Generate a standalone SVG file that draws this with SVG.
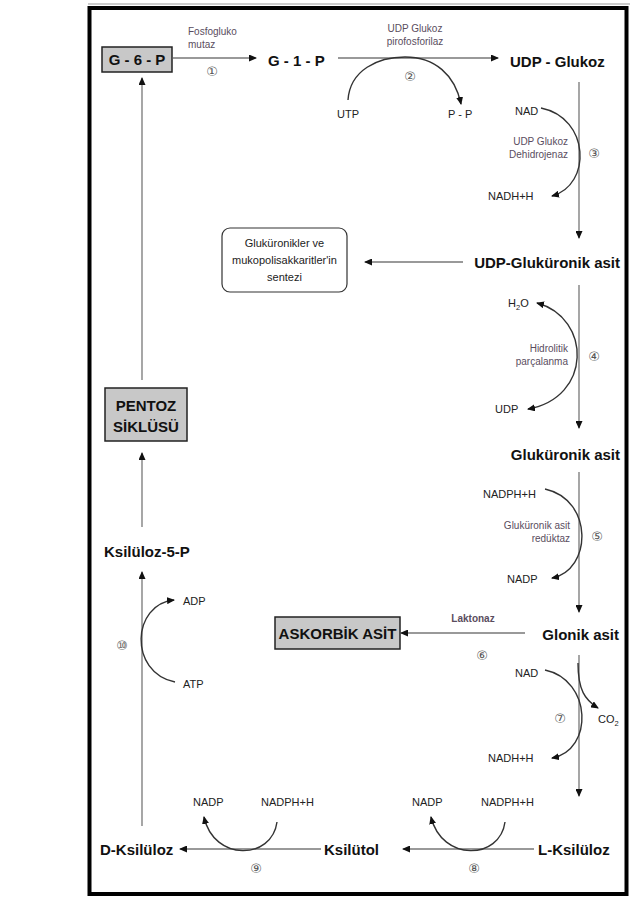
<svg xmlns="http://www.w3.org/2000/svg" width="635" height="904" viewBox="0 0 635 904">
<style>
.n{font-family:"Liberation Sans",Arial,sans-serif;font-weight:bold;font-size:15px;fill:#111}
.s{font-family:"Liberation Sans",Arial,sans-serif;font-size:11px;fill:#222}
.e{font-family:"Liberation Sans",Arial,sans-serif;font-size:10px;fill:#5a4d5e}
.c{font-family:"DejaVu Sans",sans-serif;font-size:13px;fill:#555}
.ln{fill:none;stroke:#777;stroke-width:1.3}
.cv{fill:none;stroke:#333;stroke-width:1.4}
.box{fill:#c8c8c8;stroke:#222;stroke-width:1.5}
</style>
<defs>
<marker id="ah" markerWidth="8" markerHeight="7" refX="7" refY="3.5" orient="auto-start-reverse" markerUnits="userSpaceOnUse"><path d="M0,0 L8,3.5 L0,7 z" fill="#111"/></marker>
</defs>
<rect x="0" y="0" width="635" height="904" fill="#fff"/>
<line x1="88" y1="4" x2="630" y2="4" stroke="#999" stroke-width="1"/>
<rect x="89.5" y="8" width="537" height="886" fill="none" stroke="#000" stroke-width="4"/>

<g id="connectors">
<path class="ln" d="M173,58 H256" marker-end="url(#ah)"/>
<path class="ln" d="M338,58 H498" marker-end="url(#ah)"/>
<path class="cv" d="M348,100 C350,70 378,57 405,57 C435,57 455,75 461,104" marker-end="url(#ah)"/>
<path class="ln" d="M579,82 V238" marker-end="url(#ah)"/>
<path class="cv" d="M541,108 C590,118 592,185 552,196" marker-end="url(#ah)"/>
<path class="ln" d="M463,262 H365" marker-end="url(#ah)"/>
<path class="ln" d="M579,285 V428" marker-end="url(#ah)"/>
<path class="cv" d="M537,303 C592,318 592,398 528,409" marker-start="url(#ah)" marker-end="url(#ah)"/>
<path class="ln" d="M579,472 V612" marker-end="url(#ah)"/>
<path class="cv" d="M545,489 C594,500 592,570 552,578" marker-end="url(#ah)"/>
<path class="ln" d="M525,633 H401" marker-end="url(#ah)"/>
<path class="ln" d="M579,655 V796" marker-end="url(#ah)"/>
<path class="cv" d="M545,670 C592,680 594,750 552,758" marker-end="url(#ah)"/>
<path class="cv" d="M578,663 C578,690 585,700 598,708" marker-end="url(#ah)"/>
<path class="ln" d="M534,849 H403" marker-end="url(#ah)"/>
<path class="ln" d="M321,849 H180" marker-end="url(#ah)"/>
<path class="cv" d="M277,822 C272,860 214,862 204,817" marker-end="url(#ah)"/>
<path class="cv" d="M505,822 C500,860 442,862 431,817" marker-end="url(#ah)"/>
<path class="ln" d="M142,826 V572" marker-end="url(#ah)"/>
<path class="cv" d="M175,682 C128,672 132,604 174,600" marker-end="url(#ah)"/>
<path class="ln" d="M142,527 V453" marker-end="url(#ah)"/>
<path class="ln" d="M142,380 V78" marker-end="url(#ah)"/>
</g>

<g id="g6p"><rect class="box" x="102" y="47" width="70" height="25"/><text class="n" x="137" y="65" text-anchor="middle">G - 6 - P</text></g>
<g id="g1p"><text class="n" x="268" y="66">G - 1 - P</text></g>
<g id="udpglukoz"><text class="n" x="510" y="67">UDP - Glukoz</text></g>
<g id="udpglukuronik"><text class="n" x="620" y="268" text-anchor="end">UDP-Gluküronik asit</text></g>
<g id="sentez"><rect x="222" y="228" width="125" height="64" rx="8" fill="#fff" stroke="#333" stroke-width="1.2"/>
<text class="s" x="284.5" y="247" text-anchor="middle">Gluküronikler ve</text>
<text class="s" x="284.5" y="264" text-anchor="middle">mukopolisakkaritler'in</text>
<text class="s" x="284.5" y="281" text-anchor="middle">sentezi</text></g>
<g id="glukuronik"><text class="n" x="620" y="460" text-anchor="end">Gluküronik asit</text></g>
<g id="glonik"><text class="n" x="619" y="640" text-anchor="end">Glonik asit</text></g>
<g id="askorbik"><rect class="box" x="275" y="617" width="125" height="32"/><text class="n" x="337.5" y="639" text-anchor="middle">ASKORBİK ASİT</text></g>
<g id="lksiluloz"><text class="n" x="538" y="855">L-Ksilüloz</text></g>
<g id="ksilitol"><text class="n" x="324" y="855">Ksilütol</text></g>
<g id="dksiluloz"><text class="n" x="100" y="855">D-Ksilüloz</text></g>
<g id="ksiluloz5p"><text class="n" x="104" y="557">Ksilüloz-5-P</text></g>
<g id="pentoz"><rect class="box" x="105" y="388" width="82" height="53"/><text class="n" x="146" y="411" text-anchor="middle">PENTOZ</text><text class="n" x="146" y="432" text-anchor="middle">SİKLÜSÜ</text></g>

<g id="labels">
<text class="e" x="188" y="35">Fosfogluko</text>
<text class="e" x="188" y="48">mutaz</text>
<text class="c" x="212" y="76" text-anchor="middle">①</text>
<text class="e" x="415" y="32" text-anchor="middle">UDP Glukoz</text>
<text class="e" x="415" y="45" text-anchor="middle">pirofosforilaz</text>
<text class="c" x="410" y="81" text-anchor="middle">②</text>
<text class="s" x="337" y="118">UTP</text>
<text class="s" x="448" y="118">P - P</text>
<text class="s" x="515" y="115">NAD</text>
<text class="e" x="568" y="145" text-anchor="end">UDP Glukoz</text>
<text class="e" x="568" y="158" text-anchor="end">Dehidrojenaz</text>
<text class="c" x="594" y="158" text-anchor="middle">③</text>
<text class="s" x="488" y="200">NADH+H</text>
<text class="s" x="508" y="307">H<tspan font-size="7.5" dy="3">2</tspan><tspan dy="-3">O</tspan></text>
<text class="e" x="568" y="352" text-anchor="end">Hidrolitik</text>
<text class="e" x="568" y="365" text-anchor="end">parçalanma</text>
<text class="c" x="594" y="361" text-anchor="middle">④</text>
<text class="s" x="495" y="413">UDP</text>
<text class="s" x="483" y="498">NADPH+H</text>
<text class="e" x="570" y="529" text-anchor="end">Gluküronik asit</text>
<text class="e" x="570" y="542" text-anchor="end">redüktaz</text>
<text class="c" x="597" y="541" text-anchor="middle">⑤</text>
<text class="s" x="507" y="583">NADP</text>
<text class="e" x="473" y="622" text-anchor="middle" font-weight="bold" fill="#333">Laktonaz</text>
<text class="c" x="482" y="660" text-anchor="middle">⑥</text>
<text class="s" x="515" y="677">NAD</text>
<text class="c" x="560" y="723" text-anchor="middle">⑦</text>
<text class="s" x="598" y="723">CO<tspan font-size="7.5" dy="3">2</tspan></text>
<text class="s" x="488" y="762">NADH+H</text>
<text class="s" x="412" y="806">NADP</text>
<text class="s" x="481" y="806">NADPH+H</text>
<text class="c" x="474" y="873" text-anchor="middle">⑧</text>
<text class="s" x="193" y="806">NADP</text>
<text class="s" x="261" y="806">NADPH+H</text>
<text class="c" x="256" y="873" text-anchor="middle">⑨</text>
<text class="s" x="183" y="605">ADP</text>
<text class="s" x="183" y="688">ATP</text>
<text class="c" x="122" y="650" text-anchor="middle">⑩</text>
</g>
</svg>
